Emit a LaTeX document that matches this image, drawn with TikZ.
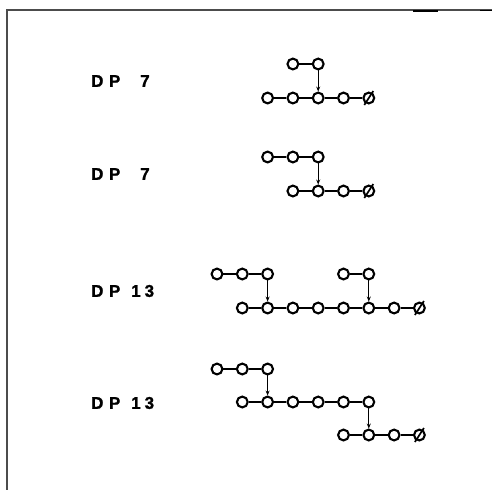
\documentclass[tikz,border=0pt]{standalone}
\usepackage{fontspec}
\setmainfont{Liberation Sans}
\newfontfamily\labfont{Liberation Sans Bold}[FakeBold=1.2]
\usetikzlibrary{arrows.meta}
\begin{document}
\begin{tikzpicture}[x=1pt,y=-1pt,
  ring/.style={circle, draw, line width=2.1pt, minimum size=10.8pt, inner sep=0pt},
  bond/.style={line width=1.7pt},
  drop/.style={line width=1pt, -{Stealth[length=5pt,width=4pt]}},
  slash/.style={line width=1.7pt},
  frame/.style={line width=1.6pt, draw=black!70},
  lab/.style={font=\labfont\fontsize{17}{17}\selectfont, inner sep=0pt, anchor=west}]
\useasboundingbox (0,0) rectangle (492,490);
\def\gx#1{217+25.3*#1}
% frame
\draw[frame] (6,10) -- (492,10);
\draw[frame] (7,10) -- (7,490);
\draw[line width=1.2pt] (413,11) -- (438,11);
\draw[line width=1pt] (480,10.6) -- (492,10.6);
% labels
\node[lab] (l1) at (91,81) {D\hspace{5.5pt}P};
\node[lab] (n1) at (140,81) {7};
\node[lab] (l2) at (91,174) {D\hspace{5.5pt}P};
\node[lab] (n2) at (140,174) {7};
\node[lab] (l3) at (91,291) {D\hspace{5.5pt}P};
\node[lab] (n3) at (131,291) {1\hspace{4pt}3};
\node[lab] (l4) at (91,403) {D\hspace{5.5pt}P};
\node[lab] (n4) at (131,403) {1\hspace{4pt}3};
% row 1
\foreach \k in {3,4} \node[ring] (a\k) at ({\gx{\k}},64) {};
\foreach \k in {2,...,6} \node[ring] (b\k) at ({\gx{\k}},98) {};
\draw[bond] (a3) -- (a4);
\draw[bond] (b2) -- (b3) -- (b4) -- (b5) -- (b6);
\draw[slash] ([shift={(-4.5,7)}]b6.center) -- ([shift={(4.5,-7)}]b6.center);
\draw[drop] (a4) -- (b4);
% row 2
\foreach \k in {2,3,4} \node[ring] (c\k) at ({\gx{\k}},157) {};
\foreach \k in {3,...,6} \node[ring] (d\k) at ({\gx{\k}},191) {};
\draw[bond] (c2) -- (c3) -- (c4);
\draw[bond] (d3) -- (d4) -- (d5) -- (d6);
\draw[slash] ([shift={(-4.5,7)}]d6.center) -- ([shift={(4.5,-7)}]d6.center);
\draw[drop] (c4) -- (d4);
% row 3
\foreach \k in {0,1,2,5,6} \node[ring] (e\k) at ({\gx{\k}},274) {};
\foreach \k in {1,...,8} \node[ring] (f\k) at ({\gx{\k}},308) {};
\draw[bond] (e0) -- (e1) -- (e2);
\draw[bond] (e5) -- (e6);
\draw[bond] (f1) -- (f2) -- (f3) -- (f4) -- (f5) -- (f6) -- (f7) -- (f8);
\draw[slash] ([shift={(-4.5,7)}]f8.center) -- ([shift={(4.5,-7)}]f8.center);
\draw[drop] (e2) -- (f2);
\draw[drop] (e6) -- (f6);
% row 4
\foreach \k in {0,1,2} \node[ring] (g\k) at ({\gx{\k}},369) {};
\foreach \k in {1,...,6} \node[ring] (h\k) at ({\gx{\k}},402) {};
\foreach \k in {5,...,8} \node[ring] (i\k) at ({\gx{\k}},435) {};
\draw[bond] (g0) -- (g1) -- (g2);
\draw[bond] (h1) -- (h2) -- (h3) -- (h4) -- (h5) -- (h6);
\draw[bond] (i5) -- (i6) -- (i7) -- (i8);
\draw[slash] ([shift={(-4.5,7)}]i8.center) -- ([shift={(4.5,-7)}]i8.center);
\draw[drop] (g2) -- (h2);
\draw[drop] (h6) -- (i6);
\end{tikzpicture}
\end{document}
